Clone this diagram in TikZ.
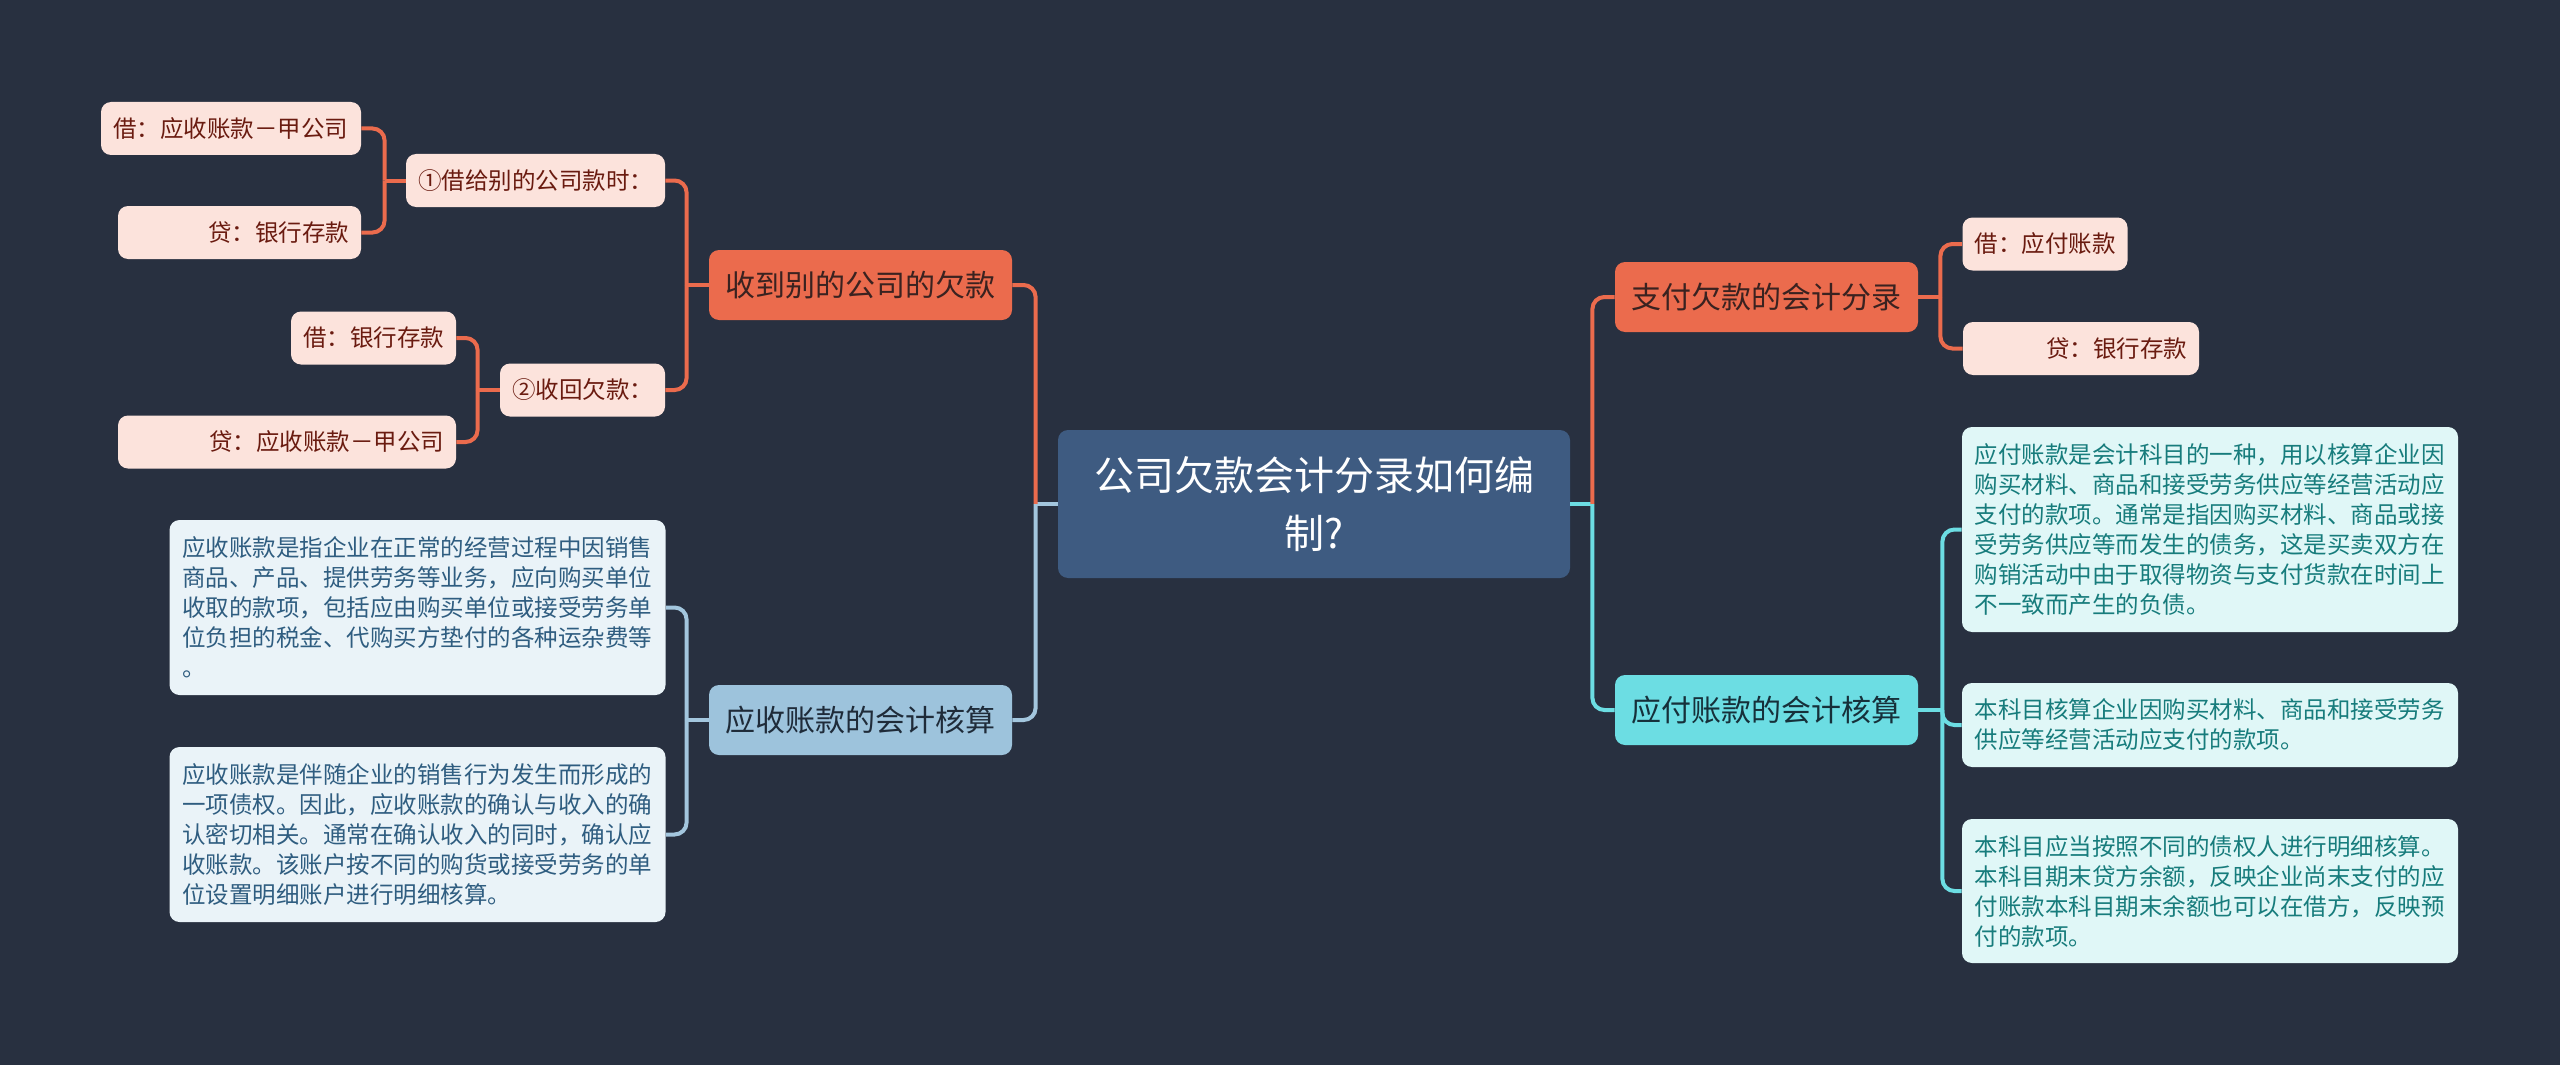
\documentclass[tikz,border=0pt]{standalone}
\usepackage{fontspec}
\setmainfont{Noto Sans CJK SC}

\definecolor{bgcol}{HTML}{283040}
\definecolor{rootcol}{HTML}{3E5B81}
\definecolor{orangecol}{HTML}{EB6B4D}
\definecolor{orangetext}{HTML}{3A2220}
\definecolor{bluecol}{HTML}{9DC3DC}
\definecolor{bluetext}{HTML}{1F2B39}
\definecolor{cyancol}{HTML}{6CDDE3}
\definecolor{cyantext}{HTML}{16303A}
\definecolor{leafcol}{HTML}{FCE3DC}
\definecolor{leaftext}{HTML}{6A1B10}
\definecolor{bluenote}{HTML}{EAF3F8}
\definecolor{bluenotetext}{HTML}{2F5D80}
\definecolor{cyannote}{HTML}{E0F7F7}
\definecolor{cyannotetext}{HTML}{177C7C}
\definecolor{linkblue}{HTML}{A3C6DE}

\tikzset{
    box/.style={rounded corners=5pt,inner xsep=6pt,inner ysep=0pt,
        font=\fontsize{11.75pt}{15pt}\selectfont},
    rootbox/.style={box,fill=rootcol,text=white,align=center,text width=230pt,
        font=\fontsize{20pt}{29pt}\selectfont,minimum width=256pt,minimum height=74pt},
    mainbox/.style={box,font=\fontsize{15pt}{18pt}\selectfont,
        minimum width=151.5pt,minimum height=35pt},
    leafbox/.style={box,fill=leafcol,text=leaftext,align=left,minimum height=26.5pt},
    notebox/.style={box,align=left,text width=235.5pt,inner xsep=6.25pt},
    link/.style={line width=2pt,rounded corners=6pt},
}

\begin{document}
\begin{tikzpicture}[x=0.5pt,y=-0.5pt]
            \fill[bgcol] (0,0) rectangle (2560,1065);

            \node[rootbox] (root) at (1314,504) {公司欠款会计分录如何编\\制?};

            \node[mainbox,fill=orangecol,text=orangetext] (shou) at (860.5,285) {收到别的公司的欠款};
            \node[mainbox,fill=bluecol,text=bluetext] (yingshou) at (860.5,720) {应收账款的会计核算};
            \node[mainbox,fill=orangecol,text=orangetext] (zhifu) at (1766.5,297) {支付欠款的会计分录};
            \node[mainbox,fill=cyancol,text=cyantext] (yingfu) at (1766.5,710) {应付账款的会计核算};

            \node[leafbox,text width=118pt] (jieA) at (231,128.5) {借：应收账款－甲公司};
            \node[leafbox,text width=109.5pt,align=right] (daiA) at (239.5,232.5) {贷：银行存款};
            \node[leafbox,text width=117.5pt] (lend) at (535.5,180.5) {①借给别的公司款时：};
            \node[leafbox,text width=70.5pt] (jieB) at (373.5,338) {借：银行存款};
            \node[leafbox,text width=70.5pt] (back) at (582.5,390) {②收回欠款：};
            \node[leafbox,text width=157pt,align=right] (daiB) at (287,442) {贷：应收账款－甲公司};
            \node[leafbox,text width=70.5pt] (jieC) at (2045,244) {借：应付账款};
            \node[leafbox,text width=106pt,align=right] (daiC) at (2081,348.5) {贷：银行存款};

            \node[notebox,fill=bluenote,text=bluenotetext,minimum height=87.5pt] (recvA) at (417.5,607.5)
                {应收账款是指企业在正常的经营过程中因销售\\
                 商品、产品、提供劳务等业务，应向购买单位\\
                 收取的款项，包括应由购买单位或接受劳务单\\
                 位负担的税金、代购买方垫付的各种运杂费等\\
                 。};
            \node[notebox,fill=bluenote,text=bluenotetext,minimum height=87.5pt] (recvB) at (417.5,834.5)
                {应收账款是伴随企业的销售行为发生而形成的\\
                 一项债权。因此，应收账款的确认与收入的确\\
                 认密切相关。通常在确认收入的同时，确认应\\
                 收账款。该账户按不同的购货或接受劳务的单\\
                 位设置明细账户进行明细核算。};
            \node[notebox,fill=cyannote,text=cyannotetext,minimum height=102.5pt] (payA) at (2210,529.5)
                {应付账款是会计科目的一种，用以核算企业因\\
                 购买材料、商品和接受劳务供应等经营活动应\\
                 支付的款项。通常是指因购买材料、商品或接\\
                 受劳务供应等而发生的债务，这是买卖双方在\\
                 购销活动中由于取得物资与支付货款在时间上\\
                 不一致而产生的负债。};
            \node[notebox,fill=cyannote,text=cyannotetext,minimum height=42pt] (payB) at (2210,725)
                {本科目核算企业因购买材料、商品和接受劳务\\
                 供应等经营活动应支付的款项。};
            \node[notebox,fill=cyannote,text=cyannotetext,minimum height=72pt] (payC) at (2210,891)
                {本科目应当按照不同的债权人进行明细核算。\\
                 本科目期末贷方余额，反映企业尚末支付的应\\
                 付账款本科目期末余额也可以在借方，反映预\\
                 付的款项。};

            \coordinate (rootL) at ([xshift=-11pt]root.west);
            \coordinate (rootR) at ([xshift=11pt]root.east);
            \coordinate (shouL) at ([xshift=-11pt]shou.west);
            \coordinate (lendL) at ([xshift=-10.5pt]lend.west);
            \coordinate (backL) at ([xshift=-11pt]back.west);
            \coordinate (yingshouL) at ([xshift=-11pt]yingshou.west);
            \coordinate (zhifuR) at ([xshift=11pt]zhifu.east);
            \coordinate (yingfuR) at ([xshift=12pt]yingfu.east);

            \draw[link,linkblue] (root.west) -- (rootL);
            \draw[link,orangecol] (rootL) |- (shou.east);
            \draw[link,linkblue] (rootL) |- (yingshou.east);
            \draw[link,cyancol] (root.east) -- (rootR);
            \draw[link,orangecol] (rootR) |- (zhifu.west);
            \draw[link,cyancol] (rootR) |- (yingfu.west);

            \draw[link,orangecol] (shou.west) -- (shouL);
            \draw[link,orangecol] (shouL) |- (lend.east);
            \draw[link,orangecol] (shouL) |- (back.east);
            \draw[link,orangecol] (lend.west) -- (lendL);
            \draw[link,orangecol] (lendL) |- (jieA.east);
            \draw[link,orangecol] (lendL) |- (daiA.east);
            \draw[link,orangecol] (back.west) -- (backL);
            \draw[link,orangecol] (backL) |- (jieB.east);
            \draw[link,orangecol] (backL) |- (daiB.east);

            \draw[link,linkblue] (yingshou.west) -- (yingshouL);
            \draw[link,linkblue] (yingshouL) |- (recvA.east);
            \draw[link,linkblue] (yingshouL) |- (recvB.east);

            \draw[link,orangecol] (zhifu.east) -- (zhifuR);
            \draw[link,orangecol] (zhifuR) |- (jieC.west);
            \draw[link,orangecol] (zhifuR) |- (daiC.west);

            \draw[link,cyancol] (yingfu.east) -- (yingfuR);
            \draw[link,cyancol] (yingfuR) |- (payA.west);
            \draw[link,cyancol] (yingfuR) |- (payB.west);
            \draw[link,cyancol] (yingfuR) |- (payC.west);
\end{tikzpicture}
\end{document}
